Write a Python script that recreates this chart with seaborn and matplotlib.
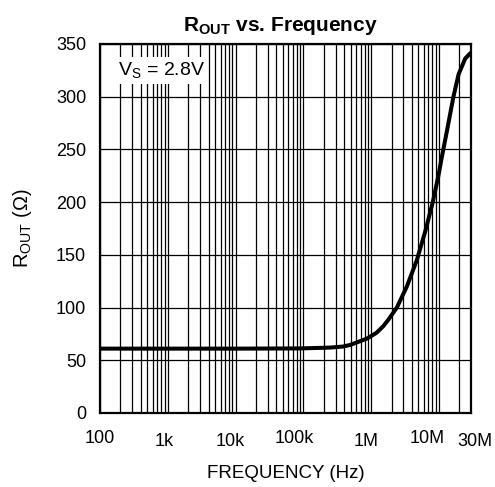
import numpy as np
import pandas as pd
import seaborn as sns
import matplotlib
matplotlib.use("Agg")
import matplotlib.pyplot as plt
from matplotlib.ticker import FixedLocator, NullFormatter

# values
freq_hz = [100, 1e3, 1e4, 8.95e4, 2.48e5, 3.86e5, 4.91e5, 8.65e5, 1.2e6, 1.52e6, 1.80e6,
           2.40e6, 3.37e6, 4.73e6, 6.28e6, 8.13e6, 9.84e6, 11.0e6, 13.1e6,
           16.4e6, 19.5e6, 24.4e6, 29e6, 30e6]
rout_ohm = [61, 61, 61, 61.2, 62, 63, 64.5, 70.5, 76, 82.5, 88.5,
            100, 120, 145, 172, 200, 225, 242, 267,
            300, 321, 336, 341, 341.5]

major_ticks = [100, 1e3, 1e4, 1e5, 1e6, 1e7, 3e7]
major_labels = ["100", "1k", "10k", "100k", "1M", "10M", "30M"]
y_ticks = [0, 50, 100, 150, 200, 250, 300, 350]

# the scanned datasheet has its tick labels slightly off-centre
label_dx = [0, -2.7, -3.6, -6.5, -3.8, -8.6, 2.9]
label_dy = [-18.7, -20.5, -20.5, -18.7, -20.5, -18.7, -20.5]

df = pd.DataFrame({"freq": freq_hz, "rout": rout_ohm})

sns.set_style("white")
plt.rcParams["font.family"] = ["Liberation Sans", "DejaVu Sans"]
plt.rcParams["mathtext.fontset"] = "custom"
plt.rcParams["mathtext.rm"] = "Liberation Sans"
plt.rcParams["mathtext.bf"] = "Liberation Sans:bold"
for key in ["text.color", "axes.labelcolor", "xtick.color", "ytick.color"]:
    plt.rcParams[key] = "black"

fig = plt.figure(figsize=(4.95, 4.87), dpi=100)
ax = fig.add_axes([0.202, 0.152, 0.750, 0.758])

sns.lineplot(data=df, x="freq", y="rout", ax=ax, color="black", lw=2.9, zorder=3)

ax.set_xscale("log")
ax.set_xlim(100, 3e7)
ax.set_ylim(0, 350)

minor = []
for dec in [1e2, 1e3, 1e4, 1e5, 1e6]:
    minor += [dec * k for k in range(2, 10)]
minor.append(2e7)
ax.xaxis.set_major_locator(FixedLocator(major_ticks))
ax.xaxis.set_major_formatter(NullFormatter())
ax.xaxis.set_minor_locator(FixedLocator(minor))
ax.xaxis.set_minor_formatter(NullFormatter())
ax.set_yticks(y_ticks)

for f, lab, dx, dy in zip(major_ticks, major_labels, label_dx, label_dy):
    ax.annotate(lab, xy=(f, 0), xycoords=("data", "axes fraction"),
                xytext=(dx, dy), textcoords="offset points",
                ha="center", va="center", fontsize=13, color="black",
                annotation_clip=False)

ax.grid(True, which="both", axis="x", color="black", lw=0.9)
ax.grid(True, which="major", axis="y", color="black", lw=0.9)
ax.tick_params(which="both", length=0, labelsize=13, pad=10, colors="black")
for s in ax.spines.values():
    s.set_color("black")
    s.set_linewidth(1.6)

ax.set_xlabel("FREQUENCY (Hz)", fontsize=13.5, color="black")
ax.xaxis.set_label_coords(0.5, -0.141)
ax.xaxis.label.set_va("top")
ax.set_ylabel(r"R$_{\mathrm{OUT}}$ ($\Omega$)", fontsize=14.5, labelpad=16, color="black")
ax.set_title(r"$\mathbf{R_{OUT}}$ vs. Frequency", fontsize=15, fontweight="bold",
             x=0.485, pad=9, color="black")

ax.text(0.048, 0.955, r"V$_{\mathrm{S}}$ = 2.8V", transform=ax.transAxes,
        fontsize=14, va="top", ha="left", zorder=4, color="black",
        bbox=dict(facecolor="white", edgecolor="none", pad=2.5))

fig.savefig("out.png", dpi=100)
